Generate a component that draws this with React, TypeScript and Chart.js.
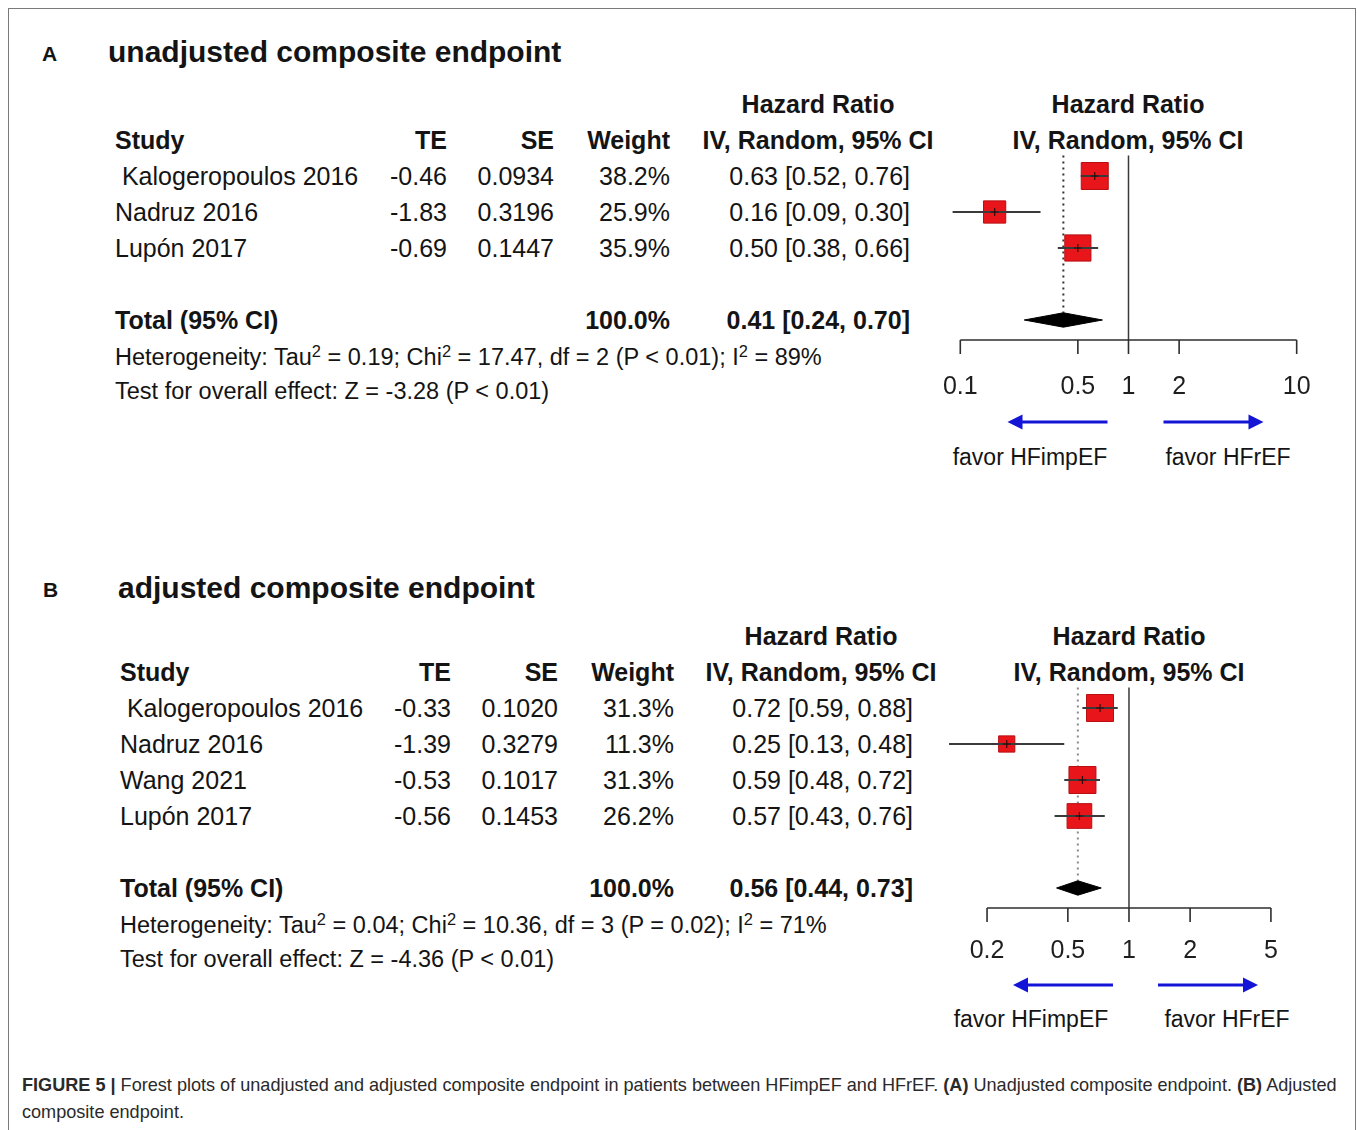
import React, { useEffect, useRef } from "react";
import { Chart, registerables } from "chart.js";

Chart.register(...registerables);

// ---------- Panel A: unadjusted composite endpoint ----------
const studiesA = [" Kalogeropoulos 2016", "Nadruz 2016", "Lupón 2017"];
const teA = [-0.46, -1.83, -0.69];
const seA = [0.0934, 0.3196, 0.1447];
const weightA = [38.2, 25.9, 35.9];
const hrA = [0.63, 0.16, 0.5];
const hrLowA = [0.52, 0.09, 0.38];
const hrHighA = [0.76, 0.3, 0.66];
const totalA = [0.41, 0.24, 0.7]; // estimate, lower, upper
const totalWeightA = 100.0;
const hetA = ["0.19", "17.47", "2", "P < 0.01", "89%"]; // tau², chi², df, p, I²
const testA = ["-3.28", "P < 0.01"];
const ticksA = [0.1, 0.5, 1, 2, 10];

// ---------- Panel B: adjusted composite endpoint ----------
const studiesB = [" Kalogeropoulos 2016", "Nadruz 2016", "Wang 2021", "Lupón 2017"];
const teB = [-0.33, -1.39, -0.53, -0.56];
const seB = [0.102, 0.3279, 0.1017, 0.1453];
const weightB = [31.3, 11.3, 31.3, 26.2];
const hrB = [0.72, 0.25, 0.59, 0.57];
const hrLowB = [0.59, 0.13, 0.48, 0.43];
const hrHighB = [0.88, 0.48, 0.72, 0.76];
const totalB = [0.56, 0.44, 0.73];
const totalWeightB = 100.0;
const hetB = ["0.04", "10.36", "3", "P = 0.02", "71%"];
const testB = ["-4.36", "P < 0.01"];
const ticksB = [0.2, 0.5, 1, 2, 5];

const FONT = '"Liberation Sans", Arial, Helvetica, sans-serif';
const INK = "#141414";

type Panel = {
  letter: string;
  title: string;
  studies: string[];
  te: number[];
  se: number[];
  weight: number[];
  totalWeight: number;
  hr: number[];
  lo: number[];
  hi: number[];
  total: number[];
  het: string[];
  test: string[];
  ticks: number[];
  xMin: number;
  xMax: number;
  g: any;
};

const panels: Panel[] = [
  {
    letter: "A",
    title: "unadjusted composite endpoint",
    studies: studiesA, te: teA, se: seA, weight: weightA, totalWeight: totalWeightA,
    hr: hrA, lo: hrLowA, hi: hrHighA,
    total: totalA, het: hetA, test: testA, ticks: ticksA, xMin: 0.08, xMax: 12,
    g: {
      letterX: 42, letterY: 54, titleX: 108, titleY: 52, hdr1Y: 104, hdr2Y: 140,
      rowY0: 176, rowStep: 36, studyX: 115, teX: 447, seX: 554, wX: 670,
      ciCX: 818, ciRX: 910, plotCX: 1128, favorLX: 1030, favorRX: 1228, favorY: 457,
      canvas: { left: 900, top: 130, width: 440, height: 310 },
      pad: { left: 44, right: 30, top: 10, bottom: 0 }, axisY: 340, tickPad: 32,
      arrowDy: 82, arrowL: [21, 121], arrowR: [35, 135],
      dotColor: "#333333",
    },
  },
  {
    letter: "B",
    title: "adjusted composite endpoint",
    studies: studiesB, te: teB, se: seB, weight: weightB, totalWeight: totalWeightB,
    hr: hrB, lo: hrLowB, hi: hrHighB,
    total: totalB, het: hetB, test: testB, ticks: ticksB, xMin: 0.12, xMax: 6,
    g: {
      letterX: 43, letterY: 590, titleX: 118, titleY: 588, hdr1Y: 636, hdr2Y: 672,
      rowY0: 708, rowStep: 36, studyX: 120, teX: 451, seX: 558, wX: 674,
      ciCX: 821, ciRX: 913, plotCX: 1129, favorLX: 1031, favorRX: 1227, favorY: 1019,
      canvas: { left: 900, top: 665, width: 440, height: 340 },
      pad: { left: 42, right: 53, top: 7, bottom: 0 }, axisY: 908, tickPad: 28,
      arrowDy: 77, arrowL: [16, 116], arrowR: [29, 129],
      dotColor: "#8a8a8a",
    },
  },
];

function Txt(props: {
  x: number; y: number; align?: "left" | "right" | "center"; size?: number;
  bold?: boolean; color?: string; children: React.ReactNode;
}) {
  const { x, y, align = "left", size = 25, bold = false, color = INK, children } = props;
  const w = 800;
  const left = align === "left" ? x : align === "right" ? x - w : x - w / 2;
  return (
    <div
      style={{
        position: "absolute", left, top: y - size, width: w, height: size * 2,
        lineHeight: `${size * 2}px`, fontSize: size, fontWeight: bold ? 700 : 400,
        textAlign: align, whiteSpace: "pre", fontFamily: FONT, color,
      }}
    >
      {children}
    </div>
  );
}

const Sup = ({ children }: { children: React.ReactNode }) => (
  <sup style={{ fontSize: "0.7em", lineHeight: 0, verticalAlign: "0.5em" }}>{children}</sup>
);

function drawArrow(ctx: CanvasRenderingContext2D, from: number, to: number, y: number) {
  const dir = Math.sign(to - from);
  const head = 15;
  ctx.beginPath();
  ctx.moveTo(from, y);
  ctx.lineTo(to - dir * head * 0.6, y);
  ctx.stroke();
  ctx.beginPath();
  ctx.moveTo(to, y);
  ctx.lineTo(to - dir * head, y - 7.5);
  ctx.lineTo(to - dir * head, y + 7.5);
  ctx.closePath();
  ctx.fill();
}

function ForestPlot({ p }: { p: Panel }) {
  const ref = useRef<HTMLCanvasElement>(null);
  useEffect(() => {
    if (!ref.current) return;
    const g = p.g;
    const c = g.canvas;
    const n = p.studies.length;
    const totalRow = n + 1;
    const yMax = totalRow + 0.556;
    const yTop = -0.57;
    const wMax = Math.max(...p.weight);
    const dh = 0.2;
    const [est, tLo, tHi] = p.total;
    const axisHeight = c.height - (g.axisY - c.top);

    const datasets: any[] = [];
    // line of no effect
    datasets.push({
      type: "line", order: 9,
      data: [{ x: 1, y: yTop }, { x: 1, y: yMax }],
      borderColor: "#3a3a3a", borderWidth: 1.5, pointRadius: 0,
    });
    // pooled estimate reference (dotted)
    datasets.push({
      type: "line", order: 8,
      data: [{ x: est, y: yTop }, { x: est, y: totalRow - dh }],
      borderColor: g.dotColor, borderWidth: 2, borderDash: [2, 4], pointRadius: 0,
    });
    // study squares, sized by weight
    datasets.push({
      type: "scatter", order: 7,
      data: p.hr.map((v, i) => ({ x: v, y: i })),
      pointStyle: "rect",
      pointRadius: p.weight.map((w) => (27 / Math.SQRT2) * Math.sqrt(w / wMax)),
      backgroundColor: "#e8161b", borderColor: "#b80f12", borderWidth: 1,
    });
    // confidence intervals
    p.lo.forEach((lo, i) => {
      datasets.push({
        type: "line", order: 6,
        data: [{ x: lo, y: i }, { x: p.hi[i], y: i }],
        borderColor: "#3a3a3a", borderWidth: 2, pointRadius: 0,
      });
    });
    // point estimate marks
    datasets.push({
      type: "scatter", order: 5,
      data: p.hr.map((v, i) => ({ x: v, y: i })),
      pointStyle: "cross", pointRadius: 4, borderColor: "#3a0505", borderWidth: 1.2,
    });
    // pooled diamond
    datasets.push({
      type: "line", order: 4,
      data: [
        { x: tLo, y: totalRow }, { x: est, y: totalRow - dh }, { x: tHi, y: totalRow },
        { x: est, y: totalRow + dh }, { x: tLo, y: totalRow },
      ],
      borderColor: "#000", backgroundColor: "#000", borderWidth: 1, fill: "shape", pointRadius: 0,
    });

    const axisPlugin = {
      id: "forestAxis",
      afterDraw(chart: any) {
        const { ctx, chartArea, scales } = chart;
        const x = scales.x;
        const y0 = chartArea.bottom;
        ctx.save();
        ctx.strokeStyle = "#2e2e2e";
        ctx.lineWidth = 1.6;
        ctx.beginPath();
        ctx.moveTo(x.getPixelForValue(p.ticks[0]), y0);
        ctx.lineTo(x.getPixelForValue(p.ticks[p.ticks.length - 1]), y0);
        p.ticks.forEach((t) => {
          const px = x.getPixelForValue(t);
          ctx.moveTo(px, y0);
          ctx.lineTo(px, y0 + 14);
        });
        ctx.stroke();
        const x1 = x.getPixelForValue(1);
        const ay = y0 + g.arrowDy;
        ctx.strokeStyle = "#1414d6";
        ctx.fillStyle = "#1414d6";
        ctx.lineWidth = 3;
        drawArrow(ctx, x1 - g.arrowL[0], x1 - g.arrowL[1], ay);
        drawArrow(ctx, x1 + g.arrowR[0], x1 + g.arrowR[1], ay);
        ctx.restore();
      },
    };

    const chart = new Chart(ref.current, {
      type: "scatter",
      data: { datasets },
      options: {
        animation: false,
        responsive: false,
        maintainAspectRatio: false,
        events: [],
        layout: { padding: g.pad, autoPadding: false },
        plugins: { legend: { display: false }, tooltip: { enabled: false } },
        scales: {
          x: {
            type: "logarithmic",
            min: p.xMin,
            max: p.xMax,
            grid: { display: false, drawTicks: false },
            border: { display: false },
            afterBuildTicks: (s: any) => {
              s.ticks = p.ticks.map((v) => ({ value: v }));
            },
            afterFit: (s: any) => {
              s.height = axisHeight;
              s.paddingLeft = 0;
              s.paddingRight = 0;
              s.paddingTop = 0;
              s.paddingBottom = 0;
            },
            ticks: {
              autoSkip: false, maxRotation: 0, minRotation: 0, padding: g.tickPad, color: "#1e1e1e",
              font: { family: FONT, size: 25 },
              callback: (v: any) => String(v),
            },
          },
          y: { type: "linear", min: -1, max: yMax, reverse: true, display: false },
        },
      } as any,
      plugins: [axisPlugin],
    });
    return () => chart.destroy();
  }, [p]);

  const c = p.g.canvas;
  return (
    <canvas
      ref={ref}
      width={c.width}
      height={c.height}
      style={{ position: "absolute", left: c.left, top: c.top, width: c.width, height: c.height }}
    />
  );
}

function PanelText({ p }: { p: Panel }) {
  const g = p.g;
  const n = p.studies.length;
  const totalY = g.rowY0 + g.rowStep * (n + 1);
  const hetY = totalY + 37;
  const testY = hetY + 34;
  const ci = (a: number, b: number, c: number) => `${a.toFixed(2)} [${b.toFixed(2)}, ${c.toFixed(2)}]`;
  return (
    <>
      <Txt x={g.letterX} y={g.letterY} size={21} bold>{p.letter}</Txt>
      <Txt x={g.titleX} y={g.titleY} size={30} bold>{p.title}</Txt>
      <Txt x={g.ciCX} y={g.hdr1Y} align="center" bold>Hazard Ratio</Txt>
      <Txt x={g.plotCX} y={g.hdr1Y} align="center" bold>Hazard Ratio</Txt>
      <Txt x={g.studyX} y={g.hdr2Y} bold>Study</Txt>
      <Txt x={g.teX} y={g.hdr2Y} align="right" bold>TE</Txt>
      <Txt x={g.seX} y={g.hdr2Y} align="right" bold>SE</Txt>
      <Txt x={g.wX} y={g.hdr2Y} align="right" bold>Weight</Txt>
      <Txt x={g.ciCX} y={g.hdr2Y} align="center" bold>IV, Random, 95% CI</Txt>
      <Txt x={g.plotCX} y={g.hdr2Y} align="center" bold>IV, Random, 95% CI</Txt>
      {p.studies.map((s, i) => {
        const y = g.rowY0 + g.rowStep * i;
        return (
          <React.Fragment key={s}>
            <Txt x={g.studyX} y={y}>{s}</Txt>
            <Txt x={g.teX} y={y} align="right">{p.te[i].toFixed(2)}</Txt>
            <Txt x={g.seX} y={y} align="right">{p.se[i].toFixed(4)}</Txt>
            <Txt x={g.wX} y={y} align="right">{p.weight[i].toFixed(1) + "%"}</Txt>
            <Txt x={g.ciRX} y={y} align="right">{ci(p.hr[i], p.lo[i], p.hi[i])}</Txt>
          </React.Fragment>
        );
      })}
      <Txt x={g.studyX} y={totalY} bold>Total (95% CI)</Txt>
      <Txt x={g.wX} y={totalY} align="right" bold>{p.totalWeight.toFixed(1) + "%"}</Txt>
      <Txt x={g.ciRX} y={totalY} align="right" bold>{ci(p.total[0], p.total[1], p.total[2])}</Txt>
      <Txt x={g.studyX} y={hetY} size={23.5}>
        Heterogeneity: Tau<Sup>2</Sup> = {p.het[0]}; Chi<Sup>2</Sup> = {p.het[1]}, df = {p.het[2]} ({p.het[3]}); I
        <Sup>2</Sup> = {p.het[4]}
      </Txt>
      <Txt x={g.studyX} y={testY} size={23.5}>
        Test for overall effect: Z = {p.test[0]} ({p.test[1]})
      </Txt>
      <Txt x={g.favorLX} y={g.favorY} align="center" size={23}>favor HFimpEF</Txt>
      <Txt x={g.favorRX} y={g.favorY} align="center" size={23}>favor HFrEF</Txt>
    </>
  );
}

export default function App() {
  return (
    <div
      style={{
        position: "absolute", left: 0, top: 0, width: 1357, height: 1130,
        overflow: "hidden", background: "#fff", fontFamily: FONT,
      }}
    >
      <div
        style={{
          position: "absolute", left: 8, top: 8, width: 1346, height: 1140,
          borderLeft: "1.5px solid #7a7a7a", borderTop: "1.5px solid #7a7a7a",
          borderRight: "1.5px solid #7a7a7a",
        }}
      />
      {panels.map((p) => (
        <React.Fragment key={p.letter}>
          <PanelText p={p} />
          <ForestPlot p={p} />
        </React.Fragment>
      ))}
      <div
        style={{
          position: "absolute", left: 22, top: 1072, whiteSpace: "nowrap",
          fontSize: 18.1, lineHeight: "27px", color: "#2a2a2a", fontFamily: FONT,
        }}
      >
        <div>
          <b>FIGURE 5 |</b> Forest plots of unadjusted and adjusted composite endpoint in patients between HFimpEF and
          HFrEF. <b>(A)</b> Unadjusted composite endpoint. <b>(B)</b> Adjusted
        </div>
        <div>composite endpoint.</div>
      </div>
    </div>
  );
}
